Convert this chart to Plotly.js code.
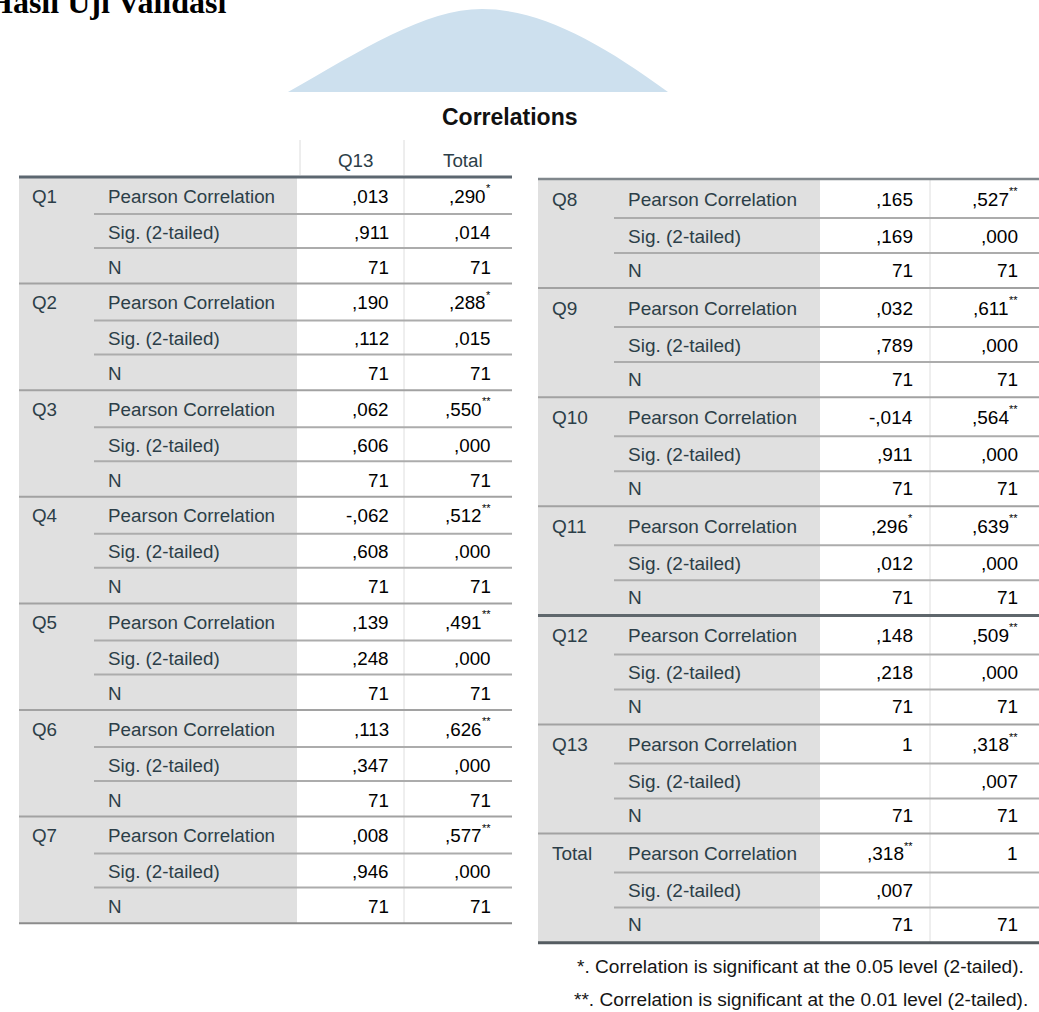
<!DOCTYPE html>
<html><head><meta charset="utf-8">
<script src="https://cdn.plot.ly/plotly-3.0.1.min.js"></script>
<style>html,body{margin:0;padding:0;background:#fff;overflow:hidden}</style>
</head><body><div id="chart" style="width:1039px;height:1012px"></div>
<script>
// ---------- data ----------
const pageTitle = "Hasil Uji Validasi";
const tableTitle = "Correlations";
const columnHeaders = ["Q13", "Total"];
const statLabels = ["Pearson Correlation", "Sig. (2-tailed)", "N"];
const items = ["Q1","Q2","Q3","Q4","Q5","Q6","Q7","Q8","Q9","Q10","Q11","Q12","Q13","Total"];
const pearsonQ13   = [0.013, 0.190, 0.062, -0.062, 0.139, 0.113, 0.008, 0.165, 0.032, -0.014, 0.296, 0.148, 1, 0.318];
const starsQ13     = [0, 0, 0, 0, 0, 0, 0, 0, 0, 0, 1, 0, 0, 2];
const pearsonTotal = [0.290, 0.288, 0.550, 0.512, 0.491, 0.626, 0.577, 0.527, 0.611, 0.564, 0.639, 0.509, 0.318, 1];
const starsTotal   = [1, 1, 2, 2, 2, 2, 2, 2, 2, 2, 2, 2, 2, 0];
const sigQ13       = [0.911, 0.112, 0.606, 0.608, 0.248, 0.347, 0.946, 0.169, 0.789, 0.911, 0.012, 0.218, null, 0.007];
const sigTotal     = [0.014, 0.015, 0.000, 0.000, 0.000, 0.000, 0.000, 0.000, 0.000, 0.000, 0.000, 0.000, 0.007, null];
const nQ13         = [71, 71, 71, 71, 71, 71, 71, 71, 71, 71, 71, 71, 71, 71];
const nTotal       = [71, 71, 71, 71, 71, 71, 71, 71, 71, 71, 71, 71, 71, 71];
const footnotes = [
  "*. Correlation is significant at the 0.05 level (2-tailed).",
  "**. Correlation is significant at the 0.01 level (2-tailed)."
];

// ---------- layout / style ----------
const W = 1039, H = 1012;
const FONT = "Liberation Sans, Arial, sans-serif";
const LABEL_COLOR = "#2c3e48";
const GRAY = "#e0e0e0";
const STAR_SIZE = 11, STAR_W = 4.4;
const panels = [
  {from:0, to:7, x0:19, grayEnd:297, div:404, x1:512, qX:32, labelX:108, subX:94, valR:[389,491],
   top:177, gh:106.6, rowC:[19,55,90], seps:[37,71], fs:18.8, thickGroup:-1,
   topLine:{color:"#5c6770", width:3}, bottomLine:{color:"#8c8c8c", width:2}},
  {from:7, to:14, x0:538, grayEnd:820, div:930, x1:1039, qX:552, labelX:628, subX:614, valR:[913,1018],
   top:179, gh:109.1, rowC:[20,57,91], seps:[39,74], fs:19, thickGroup:4,
   topLine:{color:"#80878c", width:2.5}, bottomLine:{color:"#555c61", width:3}}
];

function fmtPearson(v) {
  if (v === null || v === undefined) return "";
  if (Number.isInteger(v)) return String(v);
  return v.toFixed(3).replace(/^(-?)0\./, "$1,");
}
function fmtSig(v) {
  if (v === null || v === undefined) return "";
  return v.toFixed(3).replace(/^(-?)0\./, "$1,");
}
function fmtN(v) { return (v === null || v === undefined) ? "" : String(v); }

const shapes = [];
const annotations = [];
function line(x0, y0, x1, y1, color, width) {
  shapes.push({type:"line", xref:"x", yref:"y", x0, y0, x1, y1, line:{color, width}});
}
function text(t, x, y, opts) {
  annotations.push(Object.assign({
    text:t, x, y, xref:"x", yref:"y", showarrow:false, borderpad:0, borderwidth:0,
    xanchor:"left", yanchor:"middle", font:{family:FONT, size:18.8, color:"#000"}
  }, opts || {}));
}
// value right-aligned at xr, with optional superscript stars
function value(v, stars, xr, y, fs) {
  if (!v) return;
  const sw = stars > 0 ? STAR_W * stars + 0.5 : 0;
  text(v, xr - sw, y, {xanchor:"right", font:{family:FONT, size:fs, color:"#000"}});
  if (stars > 0) text("*".repeat(stars), xr - sw, y - 8, {xanchor:"left", font:{family:FONT, size:STAR_SIZE, color:"#000"}});
}

// decorative arc behind the title
shapes.push({type:"path", xref:"x", yref:"y", layer:"below",
  path:"M 288 92 C 362 50, 425 9, 482 9 C 540 9, 600 42, 668 92 Z",
  fillcolor:"#cde0ee", line:{width:0}});

// page title (partly cut at top-left) – paper coordinates so it may overflow the edge
annotations.push({text:"<b>" + pageTitle + "</b>", xref:"paper", yref:"paper",
  x:-12 / W, y:1 - 1.5 / H, xanchor:"left", yanchor:"middle", showarrow:false, borderpad:0, borderwidth:0,
  font:{family:"Liberation Serif, Times New Roman, serif", size:32, color:"#000"}});

// table title
text("<b>" + tableTitle + "</b>", 509, 117, {xanchor:"center", font:{family:FONT, size:23, color:"#111"}});

// column header (left table only)
const hdrX = [356, 463];
line(300, 140, 300, 175, "#dcdcdc", 1);
line(404, 140, 404, 175, "#dcdcdc", 1);
columnHeaders.forEach((h, k) => text(h, hdrX[k], 160, {xanchor:"center", font:{family:FONT, size:18.8, color:LABEL_COLOR}}));

panels.forEach(p => {
  const n = p.to - p.from;
  const bottom = p.top + n * p.gh;
  shapes.push({type:"rect", xref:"x", yref:"y", layer:"below", x0:p.x0, y0:p.top, x1:p.grayEnd, y1:bottom,
    fillcolor:GRAY, line:{width:0}});
  line(p.div, p.top, p.div, bottom, "#dedede", 1);
  for (let g = 0; g < n; g++) {
    const i = p.from + g;
    const gy = p.top + g * p.gh;
    p.seps.forEach(s => line(p.subX, gy + s, p.x1, gy + s, "#acacac", 2));
    if (g > 0) {
      if (g === p.thickGroup) line(p.x0, gy, p.x1, gy, "#5f676c", 3);
      else line(p.x0, gy, p.x1, gy, "#a2a2a2", 2);
    }
    text(items[i], p.qX, gy + p.rowC[0], {font:{family:FONT, size:p.fs, color:LABEL_COLOR}});
    statLabels.forEach((s, r) => text(s, p.labelX, gy + p.rowC[r], {font:{family:FONT, size:p.fs, color:LABEL_COLOR}}));
    value(fmtPearson(pearsonQ13[i]), starsQ13[i], p.valR[0], gy + p.rowC[0], p.fs);
    value(fmtSig(sigQ13[i]), 0, p.valR[0], gy + p.rowC[1], p.fs);
    value(fmtN(nQ13[i]), 0, p.valR[0], gy + p.rowC[2], p.fs);
    value(fmtPearson(pearsonTotal[i]), starsTotal[i], p.valR[1], gy + p.rowC[0], p.fs);
    value(fmtSig(sigTotal[i]), 0, p.valR[1], gy + p.rowC[1], p.fs);
    value(fmtN(nTotal[i]), 0, p.valR[1], gy + p.rowC[2], p.fs);
  }
  line(p.x0, p.top, p.x1, p.top, p.topLine.color, p.topLine.width);
  line(p.x0, bottom, p.x1, bottom, p.bottomLine.color, p.bottomLine.width);
});

// footnotes
const fnX = [577, 574];
const fnY = [966, 999];
footnotes.forEach((f, k) => text(f, fnX[k], fnY[k], {font:{family:FONT, size:19.1, color:"#151515"}}));

const layout = {
  width:W, height:H, margin:{l:0, r:0, t:0, b:0},
  paper_bgcolor:"#ffffff", plot_bgcolor:"#ffffff", showlegend:false,
  xaxis:{range:[0,W], visible:false, fixedrange:true},
  yaxis:{range:[H,0], visible:false, fixedrange:true},
  shapes, annotations
};
Plotly.newPlot("chart", [], layout, {displayModeBar:false, staticPlot:true});
</script></body></html>
